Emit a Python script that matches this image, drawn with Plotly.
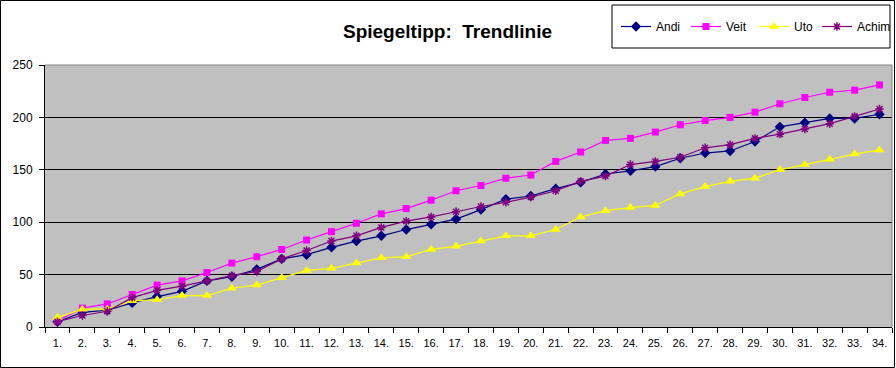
import plotly.graph_objects as go

rounds = [f"{i}." for i in range(1, 35)]

andi = [5, 14, 16, 23, 29, 34, 44, 48, 55, 65, 69, 76, 82, 87, 93, 98, 103, 112, 122, 125,
        132, 138, 146, 149, 153, 161, 166, 168, 177, 191, 195, 199, 199, 203]
veit = [6, 18, 22, 31, 40, 44, 52, 61, 67, 74, 83, 91, 99, 108, 113, 121, 130, 135, 142, 145,
        158, 167, 178, 180, 186, 193, 197, 200, 205, 213, 219, 224, 226, 231]
uto = [9, 17, 17, 25, 26, 30, 30, 37, 40, 47, 54, 56, 61, 66, 67, 74, 77, 82, 87, 87,
       93, 105, 111, 114, 116, 127, 134, 139, 142, 150, 155, 160, 165, 169]
achim = [5, 11, 15, 28, 35, 39, 44, 49, 53, 65, 73, 82, 87, 95, 101, 105, 110, 115, 119, 124,
         130, 139, 144, 155, 158, 162, 171, 174, 180, 184, 189, 194, 201, 208]

series = [
    ("Andi", andi, "#000080", dict(symbol="diamond", size=8)),
    ("Veit", veit, "#FF00FF", dict(symbol="square", size=7)),
    ("Uto", uto, "#FFFF00", dict(symbol="triangle-up", size=9)),
    ("Achim", achim, "#800080", dict(symbol="asterisk-open", size=7,
                                     line=dict(width=1.5, color="#800080"))),
]
legend_ids = ["legend", "legend2", "legend3", "legend4"]
legend_line_start = [622, 692, 760, 823]

FONT = "Liberation Sans, Arial, sans-serif"

fig = go.Figure()
for (name, vals, col, mk), lid in zip(series, legend_ids):
    m = dict(color=col, **mk)
    fig.add_trace(go.Scatter(x=rounds, y=vals, name=name, mode="lines+markers",
                             line=dict(color=col, width=1.2), marker=m, legend=lid))

W, H = 896, 368
L, R, T, B = 45, 4, 65, 41
pw, ph = W - L - R, H - T - B


def px(x):
    return (x - L) / pw


def py(y):
    return (H - B - y) / ph


shapes = [
    # outer frame
    dict(type="rect", xref="paper", yref="paper", x0=px(0.5), x1=px(894.5),
         y0=py(367.5), y1=py(0.5), line=dict(color="black", width=1)),
    # legend box
    dict(type="rect", xref="paper", yref="paper", x0=px(612), x1=px(890),
         y0=py(48), y1=py(5), line=dict(color="black", width=1)),
    # plot area top/right border (grey)
    dict(type="line", xref="paper", yref="paper", x0=0, x1=1, y0=1, y1=1,
         line=dict(color="#808080", width=1), layer="above"),
    dict(type="line", xref="paper", yref="paper", x0=1, x1=1, y0=0, y1=1,
         line=dict(color="#808080", width=1), layer="above"),
]

legends = {}
for lid, xs in zip(legend_ids, legend_line_start):
    legends[lid] = dict(orientation="h", xref="container", yref="container",
                        x=(xs - 6) / W, xanchor="left", y=1 - 26.5 / H, yanchor="middle",
                        bgcolor="rgba(0,0,0,0)", borderwidth=0, itemwidth=30,
                        font=dict(size=12, family=FONT))

fig.update_layout(
    width=W, height=H,
    margin=dict(l=L, r=R, t=T, b=B, pad=0, autoexpand=False),
    paper_bgcolor="white",
    plot_bgcolor="#C0C0C0",
    font=dict(family=FONT, size=12, color="black"),
    title=dict(text="<b>Spiegeltipp:  Trendlinie</b>", x=447.5 / W, xanchor="center",
               xref="container", yref="container", y=1 - 31 / H, yanchor="middle",
               font=dict(size=19, family=FONT, color="black")),
    showlegend=True,
    shapes=shapes,
    xaxis=dict(type="category", range=[-0.5, 33.5], tickson="boundaries", ticks="outside",
               ticklen=5, tickcolor="black", showline=True, linecolor="black", linewidth=1,
               showgrid=False, tickfont=dict(size=11, family=FONT), ticklabelstandoff=6,
               tickangle=0, automargin=False, fixedrange=True),
    yaxis=dict(range=[0, 250], tickvals=[0, 50, 100, 150, 200, 250], ticks="outside",
               ticklen=5, tickcolor="black", showline=True, linecolor="black", linewidth=1,
               showgrid=True, gridcolor="black", gridwidth=1, zeroline=False,
               tickfont=dict(size=12, family=FONT), ticklabelstandoff=4,
               automargin=False, fixedrange=True),
    **legends,
)

fig.write_html("out.html", config={"displayModeBar": False},
               post_script="document.body.style.margin='0';document.body.style.overflow='hidden';")
